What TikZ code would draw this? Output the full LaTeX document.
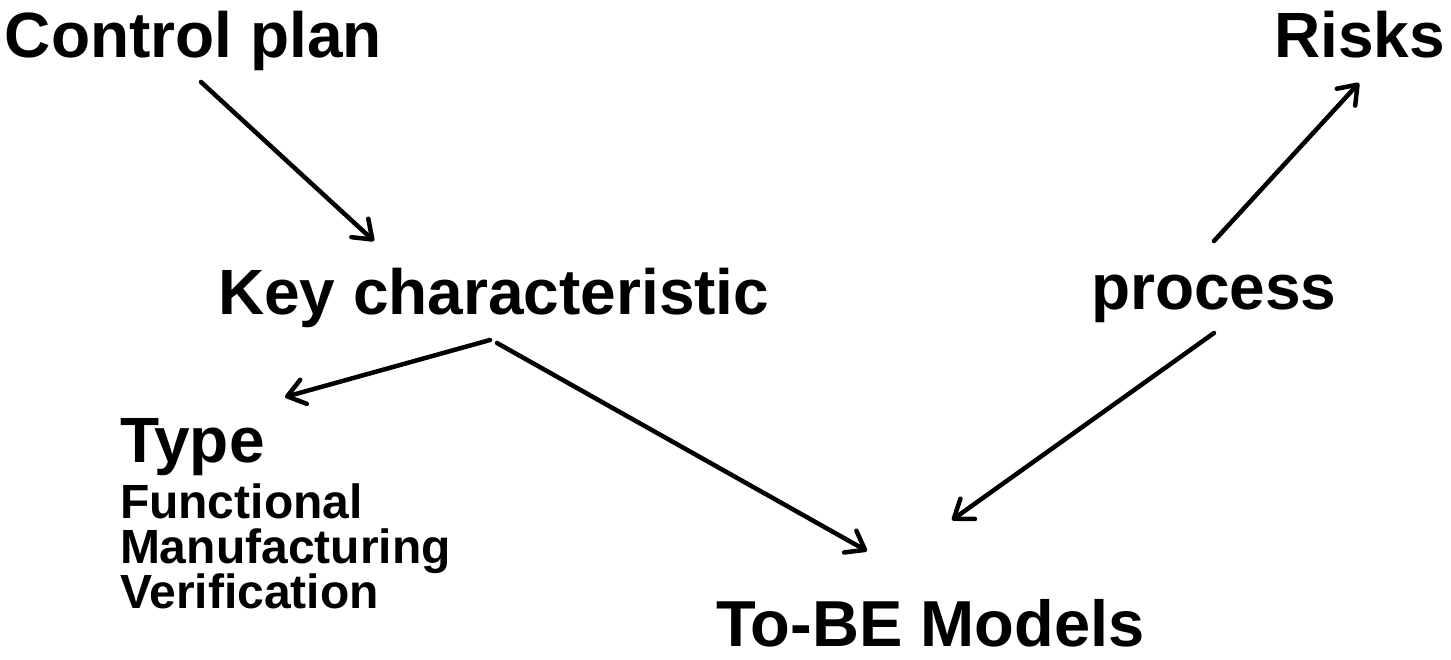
\documentclass[tikz,border=0pt]{standalone}
\usepackage{fontspec}
\setmainfont{Liberation Sans}
\usetikzlibrary{arrows.meta,positioning}

\begin{document}
\begin{tikzpicture}[
        x=1pt, y=-1pt,
        every node/.style={inner sep=0pt, outer sep=0pt},
        big/.style={
                anchor=base west,
                font=\fontsize{64}{64}\selectfont\bfseries
            },
        small/.style={
                anchor=base west,
                align=left,
                font=\fontsize{48}{45}\selectfont\bfseries
            },
        arr/.style={
                line width=4.5pt,
                line cap=round,
                line join=round,
                -{Straight Barb[length=17pt,width=25pt,line cap=round,line join=round]}
            },
    ]
    \useasboundingbox (0,0) rectangle (1451,660);
    %texts
    \node[big] (plan) at (5,58) {Control plan};
    \node[big, anchor=base east] (risks) at (1445,58) {Risks};
    \node[big] (key) at (218,315) {Key characteristic};
    \node[big] (proc) at (1091,310) {process};
    \node[big] (type) at (120,462) {Type};
    \node[small] (kinds) at (120,608) {Functional\\Manufacturing\\Verification};
    \node[big, font=\fontsize{65}{65}\selectfont\bfseries] (tobe) at (716,646) {To-BE Models};
    %arrows
    \draw[arr] ([shift={(196,24)}]plan.base west) -- ([shift={(156,-74)}]key.base west);
    \draw[arr] ([shift={(272,25)}]key.base west) -- ([shift={(165,-65)}]type.base west);
    \draw[arr] ([shift={(279,28)}]key.base west) -- ([shift={(151,-95)}]tobe.base west);
    \draw[arr] ([shift={(123,-69)}]proc.base west) -- ([shift={(-86,25)}]risks.base east);
    \draw[arr] ([shift={(123,23)}]proc.base west) -- ([shift={(236,-126)}]tobe.base west);
\end{tikzpicture}
\end{document}
